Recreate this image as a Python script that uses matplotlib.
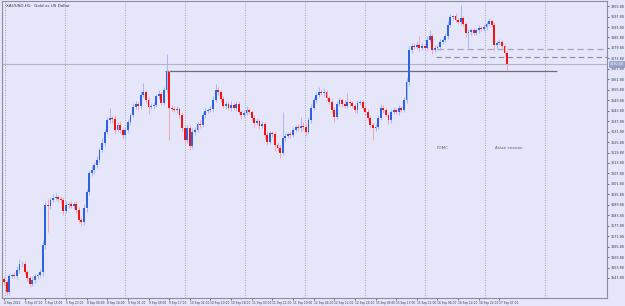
import matplotlib
matplotlib.use("Agg")
import matplotlib.pyplot as plt
import numpy as np

title = "XAUUSD,H1:  Gold vs US Dollar"
first_open = 3547.0
closes = [
    3545.5, 3539.8, 3548.9, 3549.5, 3548.9, 3552.4, 3555.8, 3555.8, 3551.2, 3547.8,
    3544.4, 3546.7, 3548.9, 3549.5, 3551.2, 3566.7, 3589.7, 3589.1, 3592.5, 3593.7,
    3594.3, 3593.1, 3592.5, 3586.2, 3589.7, 3590.2, 3589.1, 3590.2, 3586.8, 3581.1,
    3579.9, 3587.9, 3597.1, 3608.0, 3609.7, 3612.6, 3615.5, 3621.2, 3625.2, 3631.5,
    3638.4, 3639.6, 3639.0, 3632.7, 3635.6, 3632.7, 3629.8, 3632.7, 3637.3, 3641.3,
    3645.9, 3647.6, 3646.4, 3652.8, 3654.5, 3649.9, 3645.9, 3646.4, 3647.0, 3652.2,
    3653.3, 3648.2, 3655.6, 3665.9, 3645.3, 3645.0, 3644.2, 3644.7, 3641.3, 3633.8,
    3626.9, 3633.8, 3623.5, 3631.5, 3632.7, 3636.1, 3635.6, 3641.3, 3643.6, 3644.2,
    3644.7, 3649.9, 3655.6, 3654.5, 3650.5, 3646.4, 3647.6, 3645.3, 3647.0, 3645.3,
    3647.6, 3643.0, 3641.3, 3642.4, 3644.2, 3643.0, 3639.6, 3636.7, 3637.8, 3635.0,
    3636.1, 3629.8, 3625.8, 3630.9, 3630.4, 3624.1, 3622.4, 3619.5, 3628.1, 3629.2,
    3630.4, 3629.8, 3632.7, 3634.4, 3633.8, 3635.0, 3634.4, 3631.5, 3638.4, 3645.3,
    3649.9, 3652.8, 3654.5, 3653.9, 3654.5, 3651.0, 3648.7, 3644.2, 3640.1, 3647.6,
    3649.9, 3647.6, 3646.4, 3648.7, 3648.2, 3646.4, 3644.2, 3648.2, 3648.7, 3645.3,
    3643.0, 3639.6, 3635.6, 3633.8, 3634.4, 3639.6, 3645.3, 3644.2, 3641.3, 3638.4,
    3643.0, 3644.2, 3643.0, 3645.3, 3644.2, 3649.9, 3660.2, 3678.6, 3680.9, 3680.3,
    3681.4, 3679.7, 3680.9, 3679.7, 3684.3, 3686.6, 3678.6, 3679.7, 3680.3, 3683.1,
    3684.3, 3686.6, 3692.9, 3697.5, 3698.1, 3695.8, 3694.6, 3696.9, 3693.5, 3688.3,
    3688.9, 3690.0, 3688.3, 3690.0, 3691.2, 3690.6, 3691.8, 3693.5, 3695.2, 3692.9,
    3681.4, 3682.6, 3683.1, 3680.9, 3676.8, 3670.5,
]
wick_up = [
    1.5, 1.2, 2.0, 1.0, 1.6, 2.2, 3.0, 1.5, 1.8, 1.0,
    1.2, 2.5, 1.4, 1.0, 2.0, 3.0, 2.0, 3.5, 1.5, 2.5,
    2.0, 1.0, 1.8, 1.5, 2.4, 1.2, 1.6, 1.0, 2.0, 1.5,
    1.8, 2.5, 1.5, 2.0, 3.0, 1.5, 2.2, 1.4, 3.0, 2.0,
    1.5, 6.0, 1.2, 2.5, 1.8, 2.0, 1.0, 1.5, 2.0, 1.4,
    2.2, 1.5, 1.0, 2.5, 5.0, 1.2, 1.5, 2.0, 1.8, 1.0,
    2.4, 1.5, 2.0, 10.6, 1.0, 1.5, 1.2, 2.0, 1.0, 1.5,
    1.2, 2.0, 1.5, 2.5, 1.8, 1.0, 2.2, 1.5, 2.0, 1.2,
    1.6, 2.5, 3.5, 1.5, 1.0, 2.0, 1.5, 1.2, 2.5, 1.0,
    1.8, 1.5, 1.0, 2.0, 2.5, 1.2, 1.0, 1.5, 2.0, 1.2,
    1.8, 1.0, 2.0, 1.5, 1.2, 1.0, 1.8, 1.5, 15.0, 2.0,
    1.2, 1.5, 2.0, 1.0, 1.8, 5.0, 2.5, 1.5, 2.0, 2.5,
    1.8, 2.0, 3.0, 1.5, 2.5, 1.2, 1.0, 1.8, 1.5, 2.0,
    1.5, 1.0, 2.5, 5.0, 1.5, 1.2, 1.0, 2.0, 1.5, 1.2,
    1.0, 1.5, 1.2, 1.0, 1.8, 2.0, 2.5, 1.5, 1.2, 1.0,
    2.0, 1.5, 1.2, 1.8, 1.0, 2.0, 3.0, 2.5, 2.0, 1.5,
    2.5, 5.0, 1.5, 2.0, 2.5, 3.5, 1.0, 1.5, 1.2, 2.0,
    1.5, 2.0, 2.5, 1.5, 0.5, 1.5, 1.2, 7.5, 1.5, 1.0,
    1.5, 1.2, 1.0, 1.5, 2.0, 1.2, 1.5, 2.0, 1.5, 1.0,
    1.5, 1.2, 2.0, 1.5, 1.0, 1.2,
]
wick_dn = [
    1.5, 1.7, 2.0, 1.2, 1.0, 1.5, 2.0, 1.5, 1.2, 2.0,
    1.5, 1.0, 2.0, 1.5, 1.2, 2.0, 2.5, 15.0, 1.5, 1.2,
    1.0, 1.8, 1.5, 2.0, 1.2, 1.5, 1.0, 1.8, 1.5, 2.0,
    2.5, 1.5, 2.0, 1.5, 1.8, 2.5, 1.5, 2.0, 1.2, 1.5,
    1.0, 1.5, 2.0, 2.5, 1.2, 1.8, 2.0, 1.5, 1.0, 1.5,
    1.2, 1.0, 2.0, 1.5, 1.2, 1.5, 4.0, 1.2, 1.5, 1.0,
    1.5, 1.2, 1.0, 1.5, 18.4, 1.5, 1.2, 2.0, 1.5, 1.8,
    2.5, 1.5, 2.3, 1.2, 1.5, 1.0, 2.0, 1.2, 1.5, 1.0,
    1.2, 1.5, 1.0, 1.5, 2.0, 1.2, 1.5, 1.0, 1.8, 1.2,
    1.5, 1.0, 2.0, 1.5, 1.2, 1.0, 1.5, 2.0, 1.2, 1.5,
    1.0, 2.0, 1.5, 1.2, 1.5, 3.5, 1.5, 3.0, 1.2, 1.5,
    1.0, 1.5, 1.2, 1.0, 1.5, 2.0, 1.5, 2.0, 1.2, 1.5,
    1.0, 1.5, 1.2, 1.0, 1.5, 1.2, 1.0, 1.5, 3.0, 1.2,
    1.0, 1.5, 1.2, 1.0, 1.5, 1.2, 2.0, 1.5, 1.2, 1.0,
    1.5, 1.2, 2.0, 7.0, 1.5, 1.2, 1.0, 1.5, 1.2, 2.0,
    1.5, 1.0, 1.2, 1.5, 1.0, 1.2, 1.5, 2.0, 1.5, 1.2,
    1.0, 1.5, 1.2, 1.0, 1.5, 1.2, 2.0, 1.2, 1.0, 1.5,
    1.2, 1.0, 1.5, 1.2, 1.5, 1.0, 1.2, 1.5, 1.0, 2.0,
    8.6, 1.5, 1.2, 1.0, 1.5, 1.2, 1.0, 1.5, 1.2, 1.0,
    3.0, 1.5, 1.2, 1.0, 1.5, 3.4,
]
xtick_labels = [
    "4 Sep 2025", "5 Sep 07:00", "5 Sep 15:00", "5 Sep 23:00", "8 Sep 08:00",
    "8 Sep 16:00", "9 Sep 01:00", "9 Sep 09:00", "9 Sep 17:00", "10 Sep 02:00",
    "10 Sep 10:00", "10 Sep 18:00", "11 Sep 03:00", "11 Sep 11:00", "11 Sep 19:00",
    "12 Sep 04:00", "12 Sep 12:00", "12 Sep 20:00", "15 Sep 05:00", "15 Sep 13:00",
    "15 Sep 21:00", "16 Sep 06:00", "16 Sep 14:00", "16 Sep 22:00", "17 Sep 07:00",
]
xtick_bars = [0, 8, 16, 24, 32, 40, 48, 56, 64, 72, 80, 88, 96, 104, 112, 120,
              128, 136, 144, 152, 160, 168, 176, 184, 192]
ytick_values = [3703.80, 3697.80, 3691.80, 3685.80, 3679.80, 3673.80, 3667.80,
                3661.80, 3655.80, 3649.80, 3643.80, 3637.80, 3631.80, 3625.80,
                3619.80, 3613.80, 3607.80, 3601.80, 3595.80, 3589.80, 3583.80,
                3577.80, 3571.80, 3565.80, 3559.80, 3553.80, 3547.80]
day_separators = [0.4, 23.6, 46.9, 70.1, 93.4, 116.7, 139.9, 163.2, 186.4, 209.7]
bid_price = 3670.50
level_line = 3666.5
level_start, level_end = 62.4, 214.3
zone_upper, zone_lower = 3679.3, 3674.7
zone_start = 167.5
notes = ["FOMC", "Asian session"]
note_bars = [167.5, 190.4]
note_price = 3622.4

BG = "#e6e6fa"
YMIN, YMAX = 3536.3, 3706.7
fig = plt.figure(figsize=(6.25, 3.06), dpi=100, facecolor=BG)
ax = fig.add_axes([0.0032, 0.026, 0.968, 0.9706])
ax.set_facecolor(BG)

closes_a = np.array(closes)
opens_a = np.array([first_open] + closes[:-1])
idx = np.arange(len(closes_a))
top = np.maximum(opens_a, closes_a)
bot = np.minimum(opens_a, closes_a)
highs = top + np.array(wick_up)
lows = bot - np.array(wick_dn)
bull = closes_a >= opens_a

ax.set_xlim(-0.78, 233.7)
ax.set_ylim(YMIN, YMAX)

for xs in day_separators:
    ax.axvline(xs, color="#9a9aae", lw=0.6, ls=(0, (1.2, 1.8)), zorder=1)

ax.axhline(bid_price, color="#b4b4c8", lw=0.8, zorder=1)
ax.hlines(level_line, level_start, level_end, color="#6c6c7c", lw=0.9, zorder=1)
ax.hlines(zone_upper, zone_start + 0.5, 233.7, color="#a6a6b4", lw=0.9,
          ls=(0, (5, 3)), zorder=1)
ax.hlines(zone_lower, zone_start, 233.7, color="#8a8a98", lw=0.8,
          ls=(0, (5, 3)), zorder=1)

wick_colors = np.where(bull, "#a8b8f2", "#f3a6b0")
ax.vlines(idx, lows, highs, colors=wick_colors, lw=0.7, zorder=2)
body_h = np.maximum(top - bot, 0.25)
body_colors = np.where(bull, "#2e62e4", "#f01414")
ax.bar(idx, body_h, bottom=bot, width=0.72, color=body_colors, lw=0, zorder=3)

for txt, xb in zip(notes, note_bars):
    ax.text(xb, note_price, txt, fontsize=3.0, color="#6a5a70", va="center", ha="left")

ax.text(0.006, 0.99, title, transform=ax.transAxes, fontsize=3.0,
        color="#333344", va="top", ha="left")

ax.yaxis.tick_right()
ax.set_yticks(ytick_values)
ax.set_yticklabels([f"{v:.2f}" for v in ytick_values])
ax.tick_params(axis="y", direction="out", length=1.5, width=0.5, labelsize=2.4,
               pad=1.0, colors="#333344")
ax.set_xticks(xtick_bars)
ax.set_xticklabels(xtick_labels, ha="left")
ax.tick_params(axis="x", direction="out", length=1.5, width=0.5, labelsize=2.1,
               pad=0.8, colors="#333344")
for lbl in ax.get_xticklabels():
    lbl.set_x(lbl.get_position()[0])

ax.text(1.004, (bid_price - YMIN) / (YMAX - YMIN), f"{bid_price:.2f}",
        transform=ax.transAxes, fontsize=2.4, color="white", va="center", ha="left",
        bbox=dict(boxstyle="square,pad=0.2", fc="#9aa4cc", ec="#7a84b0", lw=0.4))

for s in ax.spines.values():
    s.set_color("#8c8c9c")
    s.set_linewidth(0.8)

fig.savefig("out.png", dpi=100, facecolor=BG)
